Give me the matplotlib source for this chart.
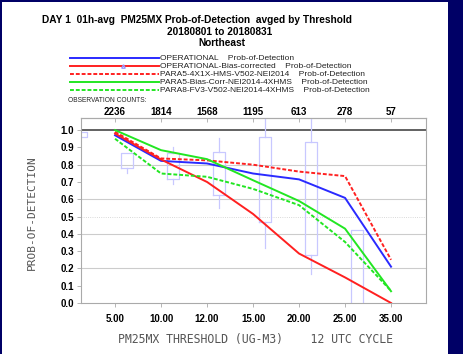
import matplotlib
matplotlib.use("Agg")
import matplotlib.pyplot as plt
import numpy as np
from matplotlib.lines import Line2D
from matplotlib.patches import Rectangle

W, H = 463, 354

thresholds = ["5.00", "10.00", "12.00", "15.00", "20.00", "25.00", "35.00"]
obs_counts = ["2236", "1814", "1568", "1195", "613", "278", "57"]

pod_oper = [0.97, 0.822, 0.807, 0.749, 0.715, 0.608, 0.21]
pod_oper_bc = [0.98, 0.83, 0.70, 0.515, 0.286, 0.148, 0.0]
pod_para5 = [0.99, 0.836, 0.825, 0.80, 0.76, 0.734, 0.25]
pod_para5_bc = [1.0, 0.884, 0.832, 0.71, 0.59, 0.43, 0.068]
pod_para8 = [0.95, 0.749, 0.73, 0.66, 0.566, 0.353, 0.07]

# spread boxes (q1, q3, low, high)
box_q1 = [0.958, 0.778, 0.72, 0.624, 0.466, 0.28, -0.05]
box_q3 = [0.987, 0.869, 0.865, 0.874, 0.958, 0.929, 0.425]
box_lo = [0.958, 0.753, 0.687, 0.547, 0.318, 0.166, -0.1]
box_hi = [0.987, 0.869, 0.90, 0.952, 1.2, 1.2, 0.425]

labels = ["OPERATIONAL    Prob-of-Detection",
          "OPERATIONAL-Bias-corrected    Prob-of-Detection",
          "PARA5-4X1X-HMS-V502-NEI2014    Prob-of-Detection",
          "PARA5-Bias-Corr-NEI2014-4XHMS    Prob-of-Detection",
          "PARA8-FV3-V502-NEI2014-4XHMS    Prob-of-Detection"]
series = [pod_oper, pod_oper_bc, pod_para5, pod_para5_bc, pod_para8]
colors = ["#2a2aff", "#ff2020", "#ff2020", "#22e622", "#22e622"]
styles = ["-", "-", (0, (2, 1)), "-", (0, (2, 1))]

plt.rcParams['font.family'] = ['Liberation Sans', 'DejaVu Sans']


def fx(x):
    return x / W


def fy(y):
    return 1 - y / H


fig = plt.figure(figsize=(W / 100, H / 100), dpi=100)
fig.patch.set_facecolor("#000066")
fig.add_artist(Rectangle((fx(2), 0), fx(448) - fx(2), fy(2), transform=fig.transFigure,
                         facecolor="white", edgecolor="none", zorder=-10))

ax = fig.add_axes([fx(81), fy(303), fx(426) - fx(81), fy(118) - fy(303)])
ax.set_facecolor("white")
x = np.arange(1, len(thresholds) + 1)

# spread boxes
stats = []
for i in range(len(box_q1)):
    stats.append(dict(med=box_q1[i], q1=box_q1[i], q3=box_q3[i],
                      whislo=box_lo[i], whishi=box_hi[i], fliers=[]))
bcol = "#c8c8ff"
ax.bxp(stats, positions=np.arange(len(box_q1)) + 0.26, widths=0.25, showcaps=False,
       showfliers=False, manage_ticks=False,
       boxprops=dict(color=bcol, lw=0.9), whiskerprops=dict(color=bcol, lw=0.9),
       medianprops=dict(color=bcol, lw=0))

for yv in [0.2, 0.4, 0.6, 0.8]:
    ax.axhline(yv, color="#cccccc", lw=0.8, zorder=0)
ax.axhline(0.5, color="#cccccc", lw=0.6, ls=":", zorder=0)
ax.axhline(1.0, color="#555555", lw=1.3, zorder=1)

for s, c, ls in zip(series, colors, styles):
    ax.plot(x, s, color=c, ls=ls, lw=1.4, zorder=3)

ax.set_xlim(0.26, 7.76)
ax.set_ylim(0, 1.07)
ax.set_xticks(x, thresholds)
ax.set_yticks(np.round(np.arange(0, 1.01, 0.1), 1))
ax.set_yticklabels(["%.1f" % v for v in np.arange(0, 1.01, 0.1)])
for sp in ax.spines.values():
    sp.set_color("#aaaaaa")
    sp.set_linewidth(0.8)
ax.tick_params(axis="both", colors="#aaaaaa", labelcolor="black", length=3, width=0.6,
               labelsize=7, pad=2)
ax.tick_params(axis="x", pad=5)
for t in ax.get_xticklabels() + ax.get_yticklabels():
    t.set_fontweight("bold")

sec = ax.secondary_xaxis("top")
sec.set_xticks(x, obs_counts)
sec.tick_params(direction="in", length=3, width=0.6, colors="#aaaaaa",
                labelcolor="black", labelsize=7, pad=1)
sec.spines["top"].set_color("#aaaaaa")
for t in sec.get_xticklabels():
    t.set_fontweight("bold")

fig.text(fx(32), fy(213), "PROB-OF-DETECTION", rotation=90, ha="center", va="center",
         family="DejaVu Sans Mono", fontsize=8, color="#555555")
fig.text(fx(256), fy(340), "PM25MX THRESHOLD (UG-M3)    12 UTC CYCLE", ha="center",
         va="center", family="DejaVu Sans Mono", fontsize=8.3, color="#555555")

# titles
fig.text(fx(197), fy(20), "DAY 1  01h-avg  PM25MX Prob-of-Detection  avged by Threshold",
         ha="center", va="center", fontsize=7.3, fontweight="bold")
fig.text(fx(220), fy(32), "20180801 to 20180831", ha="center", va="center",
         fontsize=7.3, fontweight="bold")
fig.text(fx(222), fy(43), "Northeast", ha="center", va="center",
         fontsize=7.3, fontweight="bold")

# legend
for i, (lab, c, ls) in enumerate(zip(labels, colors, styles)):
    yy = fy(58 + 8 * i)
    fig.add_artist(Line2D([fx(70), fx(159)], [yy, yy], color=c, ls=ls, lw=1.4,
                          transform=fig.transFigure))
    fig.text(fx(160), yy, lab, ha="left", va="center", fontsize=6, color="#222222")
fig.add_artist(Line2D([fx(123)], [fy(66)], marker="^", ms=2.5, color="#9999ff",
                      mfc="none", transform=fig.transFigure))
fig.text(fx(68), fy(101), "OBSERVATION COUNTS:", ha="left", va="center", fontsize=4.8,
         color="#222222")

fig.savefig("out.png", dpi=100, facecolor=fig.get_facecolor())
